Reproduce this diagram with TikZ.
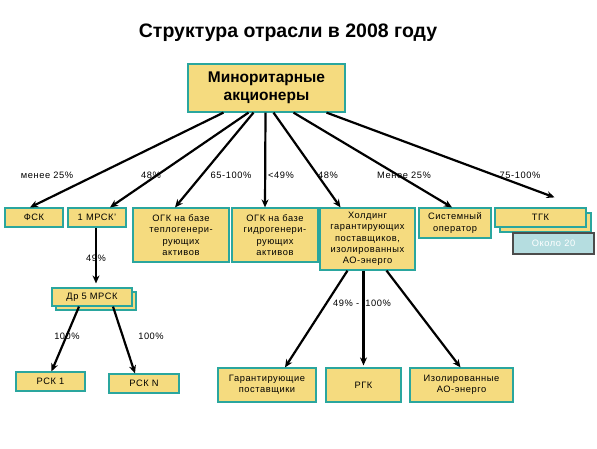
\documentclass[tikz,border=0pt]{standalone}
\usepackage{fontspec}
\setmainfont[LetterSpace=6]{Liberation Sans}
\newfontfamily\titlefont{Liberation Sans}
\usepackage{tikz}
\usetikzlibrary{arrows.meta,shadows}
\definecolor{boxfill}{HTML}{F5DB7F}
\definecolor{boxline}{HTML}{2AA69E}
\definecolor{notefill}{HTML}{B5DDE0}

\begin{document}
\begin{tikzpicture}[
  x=1pt, y=-1pt,
  box/.style={draw=boxline, fill=boxfill, line width=1.2pt, align=center, font=\fontsize{9.3}{11.3}\selectfont, inner sep=1pt},
  stack/.style={copy shadow={shadow xshift=#1, shadow yshift=-#1, draw=boxline, fill=boxfill, line width=1.2pt}},
  arr/.style={-{Stealth[length=8pt,width=7pt]}, line width=2.2pt},
  pct/.style={font=\fontsize{9.3}{11}\selectfont, inner sep=1pt}
]
\useasboundingbox (0,0) rectangle (597,448);
\node[font=\titlefont\fontsize{19.5}{22}\selectfont\bfseries] (title) at (288,33) {Структура отрасли в 2008 году};
\node[box, minimum width=157pt, minimum height=48pt, font=\titlefont\fontsize{15.5}{18.5}\selectfont\bfseries] (minor) at (266.5,88) {Миноритарные\\акционеры};
% second row
\node[box, minimum width=58pt, minimum height=19pt] (fsk) at (34,217.5) {ФСК};
\node[box, minimum width=58pt, minimum height=19pt] (mrsk) at (97,217.5) {1 МРСК'};
\node[box, minimum width=96pt, minimum height=54pt] (ogkt) at (181,235) {ОГК на базе\\теплогенери-\\рующих\\активов};
\node[box, minimum width=86pt, minimum height=54pt] (ogkg) at (275,235) {ОГК на базе\\гидрогенери-\\рующих\\активов};
\node[box, minimum width=95pt, minimum height=62pt] (hold) at (367.5,239) {Холдинг\\гарантирующих\\поставщиков,\\изолированных\\АО-энерго};
\node[box, minimum width=72pt, minimum height=30pt] (so) at (455,223) {Системный\\оператор};
\node[box, stack=5pt, minimum width=91pt, minimum height=19pt] (tgk) at (540.5,217.5) {ТГК};
\node[box, draw=gray!60!black, fill=notefill, text=white, minimum width=81pt, minimum height=21pt] (okolo) at (553.5,243.5) {Около 20};
% lower rows
\node[box, stack=4pt, minimum width=80pt, minimum height=18pt] (dr5) at (92,297) {Др 5 МРСК};
\node[box, minimum width=69pt, minimum height=19pt] (rsk1) at (50.5,381.5) {РСК 1};
\node[box, minimum width=70pt, minimum height=19pt] (rskn) at (144,383.5) {РСК N};
\node[box, minimum width=98pt, minimum height=34pt] (gp) at (267,385) {Гарантирующие\\поставщики};
\node[box, minimum width=75pt, minimum height=34pt] (rgk) at (363.5,385) {РГК};
\node[box, minimum width=103pt, minimum height=34pt] (iso) at (461.5,385) {Изолированные\\АО-энерго};
% shares
\draw[arr] ([xshift=-43pt]minor.south) -- ([xshift=-4pt]fsk.north);
\draw[arr] ([xshift=-18pt]minor.south) -- ([xshift=13pt]mrsk.north);
\draw[arr] ([xshift=-13pt]minor.south) -- ([xshift=-6pt]ogkt.north);
\draw[arr] ([xshift=-1pt]minor.south) -- ([xshift=-10pt]ogkg.north);
\draw[arr] ([xshift=7pt]minor.south) -- ([xshift=-27pt]hold.north);
\draw[arr] ([xshift=27pt]minor.south) -- ([xshift=-3pt]so.north);
\draw[arr] ([xshift=60pt]minor.south) -- ([xshift=14pt,yshift=10pt]tgk.north);
\draw[arr] ([xshift=-1pt]mrsk.south) -- ([xshift=4pt,yshift=4pt]dr5.north);
\draw[arr] ([xshift=-13pt]dr5.south) -- ([xshift=1pt]rsk1.north);
\draw[arr] ([xshift=21pt]dr5.south) -- ([xshift=-9pt]rskn.north);
\draw[arr] ([xshift=-20pt]hold.south) -- ([xshift=18pt]gp.north);
\draw[arr] ([xshift=-4pt]hold.south) -- ([yshift=2pt]rgk.north);
\draw[arr] ([xshift=19pt]hold.south) -- ([xshift=-1pt]iso.north);
\node[pct] (p1) at (47,175) {менее 25\%};
\node[pct] (p2) at (151,175) {48\%};
\node[pct] (p3) at (231,175) {65-100\%};
\node[pct] (p4) at (281,175) {<49\%};
\node[pct] (p5) at (328,175) {48\%};
\node[pct] (p6) at (404,175) {Менее 25\%};
\node[pct] (p7) at (520,175) {75-100\%};
\node[pct] (p8) at (96,258) {49\%};
\node[pct] (p9) at (67,336) {100\%};
\node[pct] (p10) at (151,336) {100\%};
\node[pct] (p11) at (362,303) {49\% -\ \ 100\%};
\end{tikzpicture}
\end{document}
